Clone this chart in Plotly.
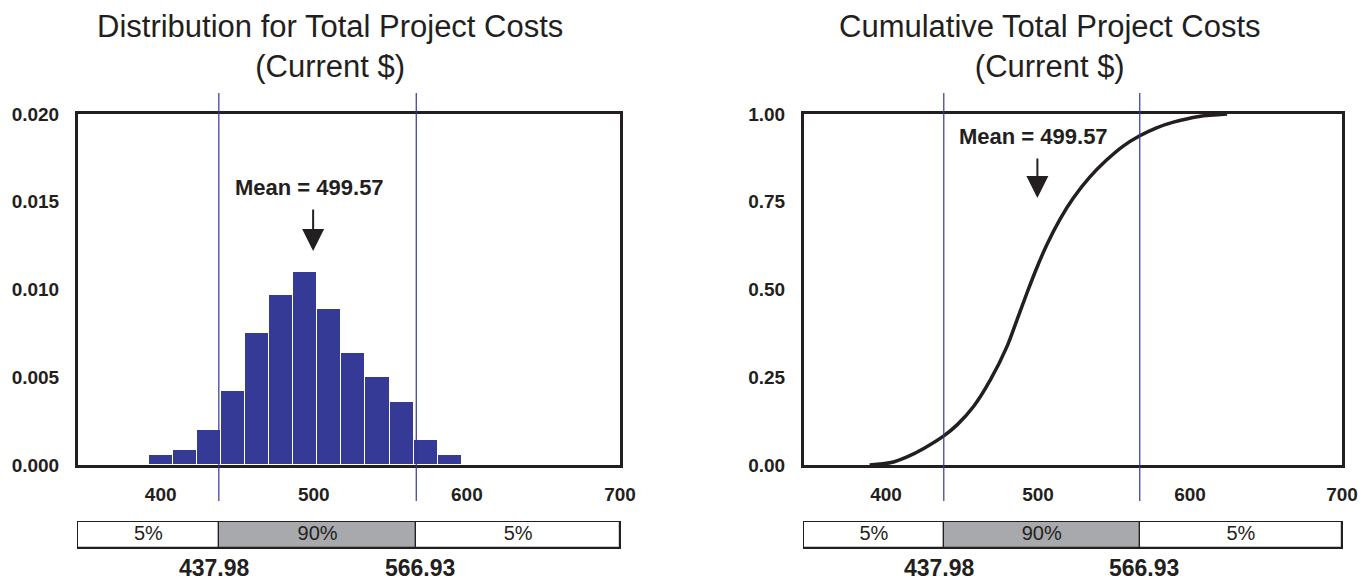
import plotly.graph_objects as go

# ---------------- data ----------------
bin_centers = [400.3, 416.0, 431.7, 447.4, 463.1, 478.8, 494.5, 510.2, 525.9, 541.6, 557.3, 573.0, 588.7]
bin_width = 15.7
densities = [0.00057, 0.00086, 0.0020, 0.0042, 0.0075, 0.0097, 0.0110, 0.0089, 0.0064, 0.0050, 0.0036, 0.0014, 0.00057]

cum_x = [389.2, 403.3, 414.2, 425.1, 437.98, 446.9, 457.8, 468.7, 479.6, 486.1, 492.7, 499.2,
         505.7, 514.4, 523.1, 534.0, 544.9, 555.8, 566.93, 577.6, 588.5, 605.9, 624.4]
cum_y = [0.0, 0.007, 0.024, 0.048, 0.083, 0.115, 0.168, 0.243, 0.338, 0.413, 0.490, 0.562,
         0.627, 0.700, 0.760, 0.820, 0.868, 0.908, 0.938, 0.960, 0.976, 0.993, 1.0]

mean_value = 499.57
p5 = 437.98
p95 = 566.93
band_labels = ["5%", "90%", "5%"]

x_ticks = [400, 500, 600, 700]
hist_y_ticks = [0.0, 0.005, 0.010, 0.015, 0.020]
cum_y_ticks = [0.0, 0.25, 0.50, 0.75, 1.00]

title_left = "Distribution for Total Project Costs<br>(Current $)"
title_right = "Cumulative Total Project Costs<br>(Current $)"

# ---------------- style ----------------
X_MIN, X_MAX = 346, 700
W, H = 1366, 580
OFF = 8  # page body margin of the HTML page
INK = "#231f20"
BAR = "#353a96"
VLINE = "#343894"
GRAY = "#a7a9ac"
FONT = "Liberation Sans, Arial, Helvetica, sans-serif"


def px(x):
    return (x - OFF) / W


def py(y):
    return (H - (y - OFF)) / H


dom_left = [px(78), px(620)]
dom_right = [px(804), px(1342)]
dom_main = [py(465), py(114)]
dom_band = [py(548), py(522)]

fig = go.Figure()

# histogram
fig.add_trace(go.Bar(
    x=bin_centers, y=densities, width=bin_width,
    marker=dict(color=BAR, line=dict(color="white", width=1)),
    xaxis="x", yaxis="y", hoverinfo="x+y"))

# cumulative curve
fig.add_trace(go.Scatter(
    x=cum_x, y=cum_y, mode="lines",
    line=dict(color=INK, width=3.5, shape="spline", smoothing=0.8),
    xaxis="x2", yaxis="y2", cliponaxis=False))

# percentile bands
band_base = [X_MIN, p5, p95]
band_len = [p5 - X_MIN, p95 - p5, X_MAX - p95]
band_mid = [b + l / 2 for b, l in zip(band_base, band_len)]
for xa, ya in (("x3", "y3"), ("x4", "y4")):
    fig.add_trace(go.Bar(
        y=[0, 0, 0], x=band_len, base=band_base, orientation="h", width=1,
        marker=dict(color=["white", GRAY, "white"], line=dict(color=INK, width=1.2)),
        xaxis=xa, yaxis=ya, hoverinfo="skip"))
    fig.add_trace(go.Scatter(
        x=band_mid, y=[0, 0, 0], mode="text", text=band_labels,
        textfont=dict(family=FONT, size=20, color=INK),
        xaxis=xa, yaxis=ya, hoverinfo="skip"))

tickfont = dict(family=FONT, size=19, color=INK, weight="bold")


def main_x(domain, anchor):
    return dict(domain=domain, anchor=anchor, range=[X_MIN, X_MAX], tickvals=x_ticks,
                showline=True, mirror=True, linewidth=3, linecolor=INK,
                ticks="outside", ticklen=10, tickcolor="rgba(0,0,0,0)",
                tickfont=tickfont, showgrid=False, zeroline=False, automargin=False)


def main_y(domain, anchor, rng, vals, fmt):
    return dict(domain=domain, anchor=anchor, range=rng, tickvals=vals, tickformat=fmt,
                showline=True, mirror=True, linewidth=3, linecolor=INK,
                ticks="outside", ticklen=12, tickcolor="rgba(0,0,0,0)",
                tickfont=tickfont, showgrid=False, zeroline=False, automargin=False)


def band_x(domain, anchor):
    return dict(domain=domain, anchor=anchor, range=[X_MIN, X_MAX], showline=True, mirror=True,
                linewidth=1.2, linecolor=INK, showticklabels=False, ticks="",
                showgrid=False, zeroline=False, automargin=False)


def band_y(domain, anchor):
    return dict(domain=domain, anchor=anchor, range=[-0.5, 0.5], showline=True, mirror=True,
                linewidth=1.2, linecolor=INK, showticklabels=False, ticks="",
                showgrid=False, zeroline=False, automargin=False)


fig.update_layout(
    template="none",
    width=W, height=H, margin=dict(l=0, r=0, t=0, b=0, pad=0, autoexpand=False),
    paper_bgcolor="white", plot_bgcolor="white", showlegend=False,
    font=dict(family=FONT, color=INK),
    bargap=0,
    xaxis=main_x(dom_left, "y"),
    yaxis=main_y(dom_main, "x", [0, 0.02], hist_y_ticks, ".3f"),
    xaxis2=main_x(dom_right, "y2"),
    yaxis2=main_y(dom_main, "x2", [0, 1], cum_y_ticks, ".2f"),
    xaxis3=band_x(dom_left, "y3"),
    yaxis3=band_y(dom_band, "x3"),
    xaxis4=band_x(dom_right, "y4"),
    yaxis4=band_y(dom_band, "x4"),
)

shapes = []
annotations = []
for xref, title, title_x, txt_y, tip_y, arrow_len in (
        ("x", title_left, px(330), py(188), py(251), 43),
        ("x2", title_right, px(1050), py(136), py(198), 41)):
    for v in (p5, p95):
        shapes.append(dict(type="line", xref=xref, yref="paper", x0=v, x1=v,
                           y0=py(501), y1=py(93), line=dict(color=VLINE, width=1.2)))
    annotations.append(dict(text=title, xref="paper", yref="paper", x=title_x, y=py(46),
                            xanchor="center", yanchor="middle", showarrow=False,
                            font=dict(family=FONT, size=31, color=INK)))
    annotations.append(dict(text=f"Mean = {mean_value:.2f}", xref=xref, yref="paper",
                            x=mean_value, y=txt_y, xshift=-4, showarrow=False,
                            xanchor="center", yanchor="middle",
                            font=dict(family=FONT, size=22, color=INK, weight="bold")))
    annotations.append(dict(text="", xref=xref, yref="paper", x=mean_value, y=tip_y,
                            ax=0, ay=-arrow_len, showarrow=True, arrowhead=2,
                            arrowsize=2.2, arrowwidth=2, arrowcolor=INK))
    for v, shift in ((p5, -4), (p95, 4)):
        annotations.append(dict(text=f"{v:.2f}", xref=xref, yref="paper", x=v, y=py(568),
                                xshift=shift, showarrow=False, xanchor="center",
                                yanchor="middle",
                                font=dict(family=FONT, size=23, color=INK, weight="bold")))

fig.update_layout(shapes=shapes, annotations=annotations)
fig.write_html("out.html")
